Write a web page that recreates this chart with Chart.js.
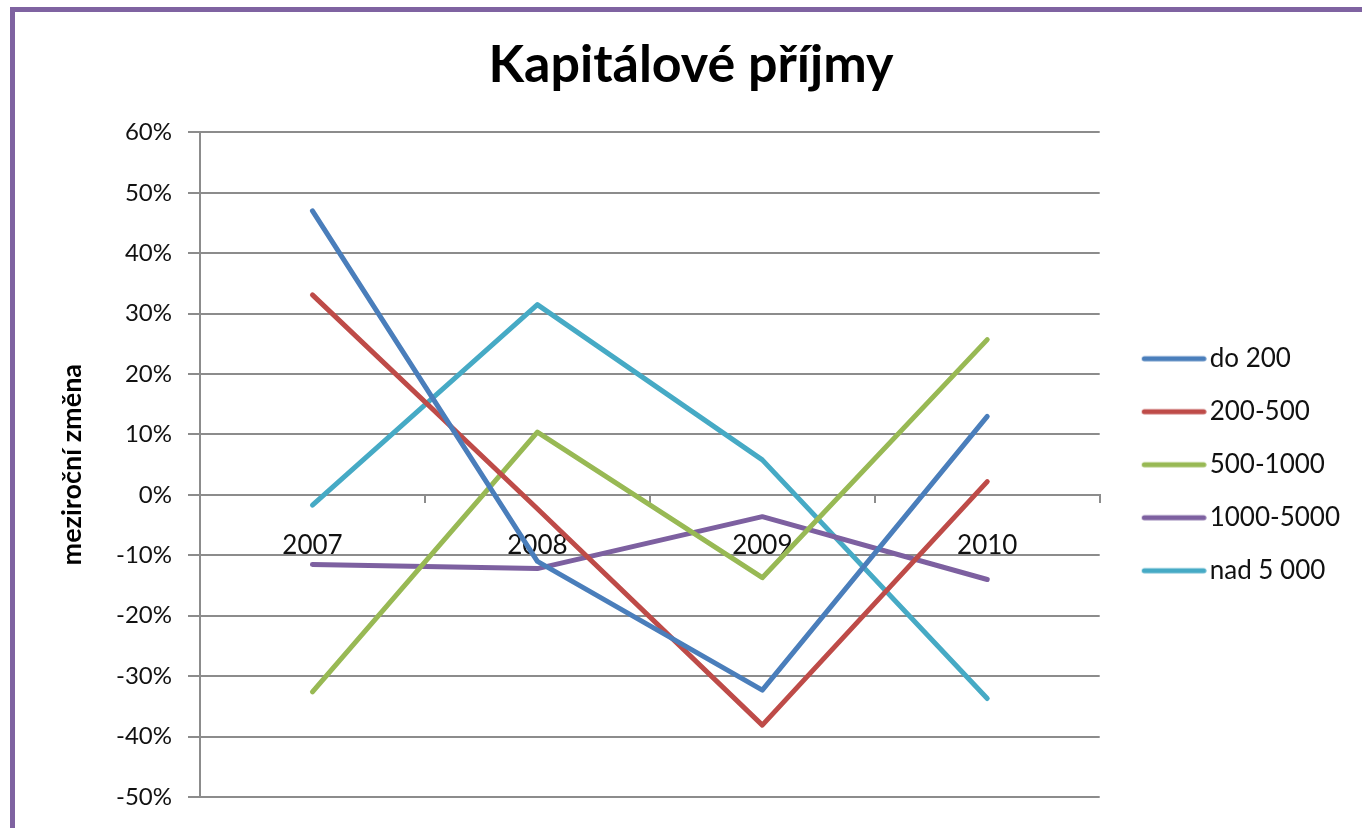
<!DOCTYPE html>
<html>
<head>
<meta charset="utf-8">
<script src="https://cdn.jsdelivr.net/npm/chart.js@4/dist/chart.umd.min.js"></script>
<style>
  html, body { margin: 0; padding: 0; background: #fff; overflow: hidden; }
  #frame { position: absolute; left: 10px; top: 7px; width: 1400px; height: 840px; border: 5px solid #7f63a1; }
  #wrap { position: absolute; left: 0; top: 0; width: 1362px; height: 828px; }
</style>
</head>
<body>
<div id="frame"></div>
<div id="wrap"><canvas id="chart" width="1362" height="828"></canvas></div>
<script>
const years = ['2007', '2008', '2009', '2010'];
const seriesNames = ['do 200', '200-500', '500-1000', '1000-5000', 'nad 5 000'];
const do200 = [47.0, -11.0, -32.3, 13.0];
const s200_500 = [33.1, -2.3, -38.1, 2.2];
const s500_1000 = [-32.6, 10.4, -13.7, 25.7];
const s1000_5000 = [-11.5, -12.2, -3.6, -14.0];
const nad5000 = [-1.7, 31.5, 5.8, -33.7];
const colors = ['#4a7ebb', '#be4b48', '#98b954', '#7d60a0', '#46aac5'];

// legend swatch: a short thick line, drawn a bit right of the item start
function legendLine(color) {
    const c = document.createElement('canvas');
    c.width = 90;
    c.height = 8;
    const g = c.getContext('2d');
    g.strokeStyle = color;
    g.lineWidth = 5;
    g.lineCap = 'round';
    g.beginPath();
    g.moveTo(27.5, 4);
    g.lineTo(87, 4);
    g.stroke();
    return c;
}

document.addEventListener('DOMContentLoaded', function() {
    const ctx = document.getElementById('chart').getContext('2d');
    const values = [do200, s200_500, s500_1000, s1000_5000, nad5000];

    const datasets = seriesNames.map((name, i) => ({
        label: name,
        data: values[i],
        borderColor: colors[i],
        backgroundColor: colors[i],
        borderWidth: 5,
        borderCapStyle: 'round',
        borderJoinStyle: 'round',
        pointRadius: 0,
        pointStyle: legendLine(colors[i]),
        tension: 0
    }));

    new Chart(ctx, {
        type: 'line',
        data: { labels: years, datasets: datasets },
        options: {
            responsive: false,
            animation: false,
            layout: { padding: { left: 32, top: 12, right: 12, bottom: 31 } },
            plugins: {
                title: {
                    display: true,
                    text: 'Kapitálové příjmy',
                    color: '#000',
                    font: { family: 'Lato', size: 52, weight: 'bold' },
                    padding: { top: 22, bottom: 36 }
                },
                legend: {
                    position: 'right',
                    fullSize: false,
                    labels: {
                        color: '#111',
                        font: { family: 'Lato', size: 26 },
                        usePointStyle: true,
                        pointStyleWidth: 70,
                        padding: 27
                    }
                },
                tooltip: { enabled: false }
            },
            scales: {
                x: {
                    position: { y: 0 },
                    offset: true,
                    grid: { offset: true, drawOnChartArea: false, drawTicks: true, tickLength: 7, color: '#8c8c8c', lineWidth: 2 },
                    border: { display: true, color: '#8c8c8c', width: 2 },
                    ticks: { color: '#111', font: { family: 'Lato', size: 26 }, padding: 28, maxRotation: 0 }
                },
                y: {
                    min: -50,
                    max: 60,
                    afterFit: s => { s.width = 168; },
                    grid: { color: '#8c8c8c', lineWidth: 2, tickLength: 12 },
                    border: { display: true, color: '#8c8c8c', width: 2 },
                    ticks: {
                        stepSize: 10,
                        color: '#111',
                        padding: 16,
                        font: { family: 'Lato', size: 24 },
                        callback: v => v + '%'
                    },
                    title: {
                        display: true,
                        text: 'meziroční změna',
                        color: '#000',
                        font: { family: 'Lato', size: 27, weight: 'bold' },
                        padding: { top: 24, bottom: 0 }
                    }
                }
            }
        }
    });
});
</script>
</body>
</html>
